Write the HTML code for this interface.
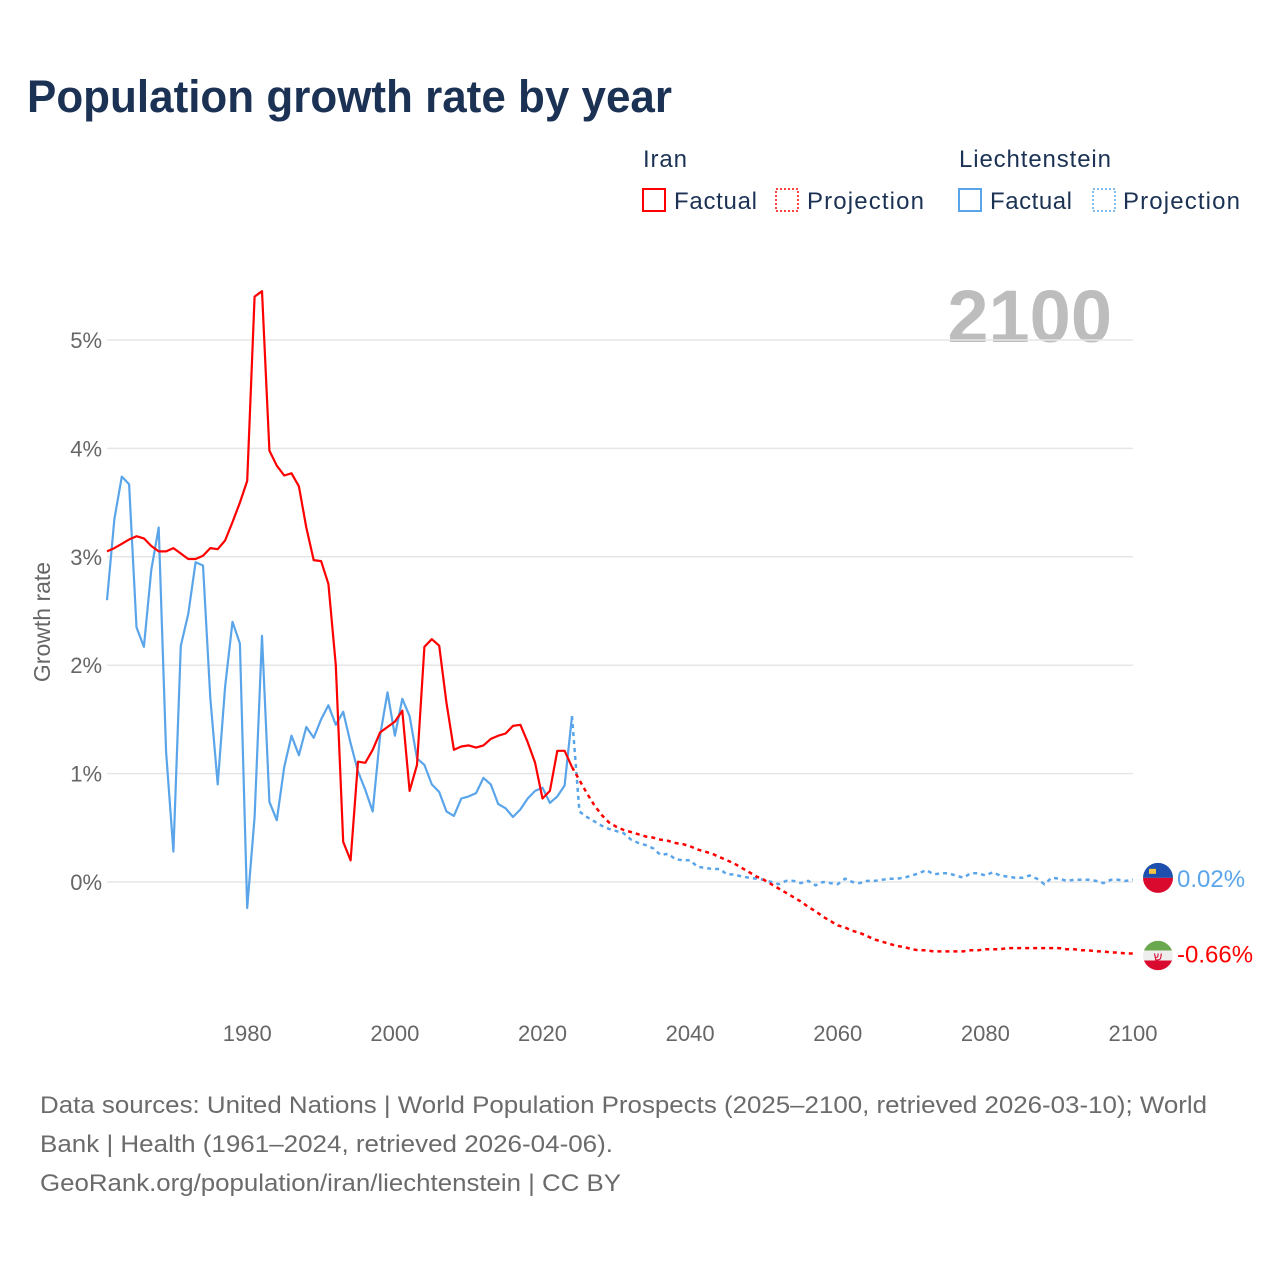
<!DOCTYPE html>
<html><head><meta charset="utf-8"><style>
body{margin:0;background:#fff;font-family:"Liberation Sans",sans-serif}
#wrap{position:relative;width:1280px;height:1280px;overflow:hidden}
</style></head><body>
<div id="wrap">
<svg id="svg" width="1280" height="1280" xmlns="http://www.w3.org/2000/svg">
<text x="27" y="112" font-size="45" font-weight="bold" fill="#1b3254" textLength="645" lengthAdjust="spacingAndGlyphs">Population growth rate by year</text>
<g font-size="24" fill="#1b3254">
<text x="643" y="167" textLength="44">Iran</text>
<rect x="643" y="189" width="22" height="22" fill="none" stroke="#ff0000" stroke-width="2"/>
<text x="674" y="209" textLength="83">Factual</text>
<rect x="776" y="189" width="22" height="22" fill="none" stroke="#ff0000" stroke-width="1.5" stroke-dasharray="2 2"/>
<text x="807" y="209" textLength="117">Projection</text>
<text x="959" y="167" textLength="152">Liechtenstein</text>
<rect x="959" y="189" width="22" height="22" fill="none" stroke="#5aa5ea" stroke-width="2"/>
<text x="990" y="209" textLength="82">Factual</text>
<rect x="1093" y="189" width="22" height="22" fill="none" stroke="#5aa5ea" stroke-width="1.5" stroke-dasharray="2 2"/>
<text x="1123" y="209" textLength="117">Projection</text>
</g>
<text x="1112" y="342" text-anchor="end" font-size="74" font-weight="bold" fill="#bdbdbd">2100</text>
<text transform="translate(50,622) rotate(-90)" text-anchor="middle" font-size="23" fill="#666">Growth rate</text>
<g id="grid"></g><g id="series"></g>
<g font-size="24" fill="#6b6b6b">
<text x="40" y="1113" textLength="1167" lengthAdjust="spacingAndGlyphs">Data sources: United Nations | World Population Prospects (2025–2100, retrieved 2026-03-10); World</text>
<text x="40" y="1152" textLength="573" lengthAdjust="spacingAndGlyphs">Bank | Health (1961–2024, retrieved 2026-04-06).</text>
<text x="40" y="1191" textLength="581" lengthAdjust="spacingAndGlyphs">GeoRank.org/population/iran/liechtenstein | CC BY</text>
</g>
</svg>
</div>
<script>
const iranYears=[];for(let y=1961;y<=2024;y++)iranYears.push(y);
const iranFactual=[3.05,3.08,3.12,3.16,3.19,3.17,3.10,3.05,3.05,3.08,3.03,2.98,2.98,3.01,3.08,3.07,3.15,3.32,3.50,3.70,5.40,5.45,3.98,3.84,3.75,3.77,3.65,3.27,2.97,2.96,2.75,2.00,0.37,0.20,1.11,1.10,1.22,1.38,1.43,1.48,1.58,0.84,1.08,2.17,2.24,2.18,1.65,1.22,1.25,1.26,1.24,1.26,1.32,1.35,1.37,1.44,1.45,1.29,1.10,0.77,0.84,1.21,1.21,1.06];
const liechFactual=[2.60,3.35,3.74,3.67,2.35,2.17,2.88,3.27,1.20,0.28,2.18,2.47,2.95,2.92,1.70,0.90,1.80,2.40,2.20,-0.24,0.60,2.27,0.74,0.57,1.06,1.35,1.17,1.43,1.33,1.50,1.63,1.45,1.57,1.28,1.02,0.85,0.65,1.35,1.75,1.35,1.69,1.53,1.14,1.08,0.90,0.83,0.65,0.61,0.77,0.79,0.82,0.96,0.90,0.72,0.68,0.60,0.67,0.77,0.84,0.87,0.73,0.79,0.89,1.53];
const projYears=[];for(let y=2025;y<=2100;y++)projYears.push(y);
const iranProjection=[0.94,0.82,0.71,0.62,0.55,0.51,0.48,0.46,0.44,0.42,0.41,0.39,0.38,0.36,0.35,0.33,0.30,0.28,0.26,0.23,0.20,0.17,0.13,0.09,0.05,0.02,-0.02,-0.06,-0.10,-0.14,-0.18,-0.23,-0.27,-0.32,-0.36,-0.40,-0.42,-0.45,-0.47,-0.50,-0.53,-0.55,-0.57,-0.59,-0.60,-0.62,-0.63,-0.63,-0.64,-0.64,-0.64,-0.64,-0.64,-0.63,-0.63,-0.62,-0.62,-0.62,-0.61,-0.61,-0.61,-0.61,-0.61,-0.61,-0.61,-0.61,-0.62,-0.62,-0.63,-0.63,-0.64,-0.64,-0.65,-0.65,-0.66,-0.66];
const liechProjection=[0.65,0.60,0.56,0.52,0.49,0.47,0.45,0.39,0.36,0.34,0.31,0.25,0.26,0.21,0.20,0.20,0.14,0.13,0.12,0.12,0.07,0.07,0.05,0.04,0.03,0.02,0.00,-0.02,0.01,0.01,-0.01,0.01,-0.03,0.00,-0.01,-0.02,0.03,0.00,-0.01,0.01,0.01,0.02,0.03,0.03,0.04,0.06,0.08,0.11,0.07,0.08,0.08,0.06,0.04,0.08,0.08,0.06,0.09,0.06,0.05,0.04,0.04,0.06,0.03,-0.02,0.04,0.03,0.01,0.02,0.02,0.02,0.01,-0.01,0.02,0.02,0.01,0.02];
const yTicks=[0,1,2,3,4,5];
const yTickLabels=["0%","1%","2%","3%","4%","5%"];
const xTicks=[1980,2000,2020,2040,2060,2080,2100];
const endLabels=["0.02%","-0.66%"];

const NS="http://www.w3.org/2000/svg";
const X=y=>107+(y-1961)*(1133-107)/139;
const Y=v=>882-v*108.4;
function mk(tag,attrs,parent){const e=document.createElementNS(NS,tag);for(const k in attrs)e.setAttribute(k,attrs[k]);parent.appendChild(e);return e;}
const grid=document.getElementById('grid'),ser=document.getElementById('series');
yTicks.forEach((t,i)=>{
  const l=mk('line',{x1:107,x2:1133,y1:Y(t),y2:Y(t),stroke:'#e6e6e6','stroke-width':1.5},grid);
  
  
  const tx=mk('text',{x:102,y:Y(t)+8,'text-anchor':'end','font-size':22,fill:'#666'},grid);
  tx.textContent=yTickLabels[i];
  
  
});
xTicks.forEach(t=>{
  const tx=mk('text',{x:X(t),y:1041,'text-anchor':'middle','font-size':22,fill:'#666'},grid);
  tx.textContent=t;
  
  
});
function path(xs,vs){return xs.map((x,i)=>(i?'L':'M')+X(x).toFixed(1)+' '+Y(vs[i]).toFixed(1)).join(' ');}
const last=iranYears.length-1;
const lp=mk('path',{d:path([2024].concat(projYears),[liechFactual[last]].concat(liechProjection)),fill:'none',stroke:'#5aa5ea','stroke-width':2.5,'stroke-dasharray':'4 4'},ser);


const ip=mk('path',{d:path([2024].concat(projYears),[iranFactual[last]].concat(iranProjection)),fill:'none',stroke:'#ff0000','stroke-width':2.5,'stroke-dasharray':'4 4'},ser);


const lf=mk('path',{d:path(iranYears,liechFactual),fill:'none',stroke:'#5aa5ea','stroke-width':2.2,'stroke-linejoin':'round'},ser);


const rf=mk('path',{d:path(iranYears,iranFactual),fill:'none',stroke:'#ff0000','stroke-width':2.2,'stroke-linejoin':'round'},ser);


const lv=liechProjection[liechProjection.length-1], iv=iranProjection[iranProjection.length-1];
const ly=Y(lv)-2, iy=Y(iv)+2, fx=1158;
const g1=mk('g',{},ser);


mk('path',{d:`M${fx-15} ${ly} A15 15 0 0 1 ${fx+15} ${ly} Z`,fill:'#1c4fae'},g1);
mk('path',{d:`M${fx-15} ${ly} A15 15 0 0 0 ${fx+15} ${ly} Z`,fill:'#da0a2e'},g1);
mk('rect',{x:fx-9,y:ly-9,width:7,height:5,fill:'#f6c445'},g1);
const g2=mk('g',{},ser);


mk('circle',{cx:fx,cy:iy,r:15,fill:'#eee'},g2);
mk('path',{d:`M${fx-14} ${iy-5} A15 15 0 0 1 ${fx+14} ${iy-5} Z`,fill:'#6aa84f'},g2);
mk('path',{d:`M${fx-14} ${iy+5} A15 15 0 0 0 ${fx+14} ${iy+5} Z`,fill:'#da0a2e'},g2);
mk('text',{x:fx,y:iy+5,'text-anchor':'middle','font-size':12,fill:'#da0a2e'},g2).textContent='ש';
const t1=mk('text',{x:1177,y:ly+9,'font-size':24,fill:'#5aa5ea'},ser);
t1.textContent=endLabels[0];


const t2=mk('text',{x:1177,y:iy+7,'font-size':24,fill:'#ff0000'},ser);
t2.textContent=endLabels[1];


</script>
</body></html>
